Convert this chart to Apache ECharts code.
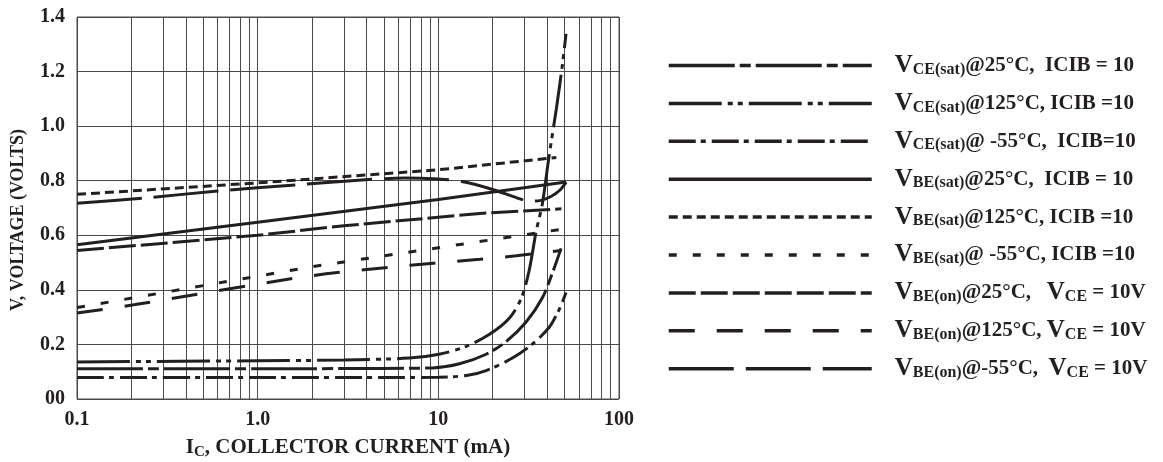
<!DOCTYPE html>
<html>
<head>
<meta charset="utf-8">
<script src="https://cdn.jsdelivr.net/npm/echarts@6/dist/echarts.min.js"></script>
<style>
html,body{margin:0;padding:0;background:#fff;}
#chart{width:1163px;height:462px;}
</style>
</head>
<body>
<div id="chart"></div>
<script>
// ---- data ----
const xTickLabels = {'-1': '0.1', '0': '1.0', '1': '10', '2': '100'};
const yTickLabels = {'0': '00', '0.2': '0.2', '0.4': '0.4', '0.6': '0.6', '0.8': '0.8', '1': '1.0', '1.2': '1.2', '1.4': '1.4'};
const minorGridValues = [0.2,0.3,0.4,0.5,0.6,0.7,0.8,0.9,2,3,4,5,6,7,8,9,20,30,40,50,60,70,80,90];

const seriesNames = [
  'VCE(sat)@25C', 'VCE(sat)@125C', 'VCE(sat)@-55C',
  'VBE(sat)@25C', 'VBE(sat)@125C', 'VBE(sat)@-55C',
  'VBE(on)@25C', 'VBE(on)@125C', 'VBE(on)@-55C'
];
const legendTexts = [
  '{v|V}{s|CE(sat)}{t|@25°C,  ICIB = 10}',
  '{v|V}{s|CE(sat)}{t|@125°C, ICIB =10}',
  '{v|V}{s|CE(sat)}{t|@ -55°C,  ICIB=10}',
  '{v|V}{s|BE(sat)}{t|@25°C,  ICIB = 10}',
  '{v|V}{s|BE(sat)}{t|@125°C, ICIB =10}',
  '{v|V}{s|BE(sat)}{t|@ -55°C, ICIB =10}',
  '{v|V}{s|BE(on)}{t|@25°C,   }{v|V}{s|CE}{t| = 10V}',
  '{v|V}{s|BE(on)}{t|@125°C, }{v|V}{s|CE}{t| = 10V}',
  '{v|V}{s|BE(on)}{t|@-55°C,  }{v|V}{s|CE}{t| = 10V}'
];
const dashPatterns = [
  [66,5,11,5],
  [53,6,5,5,5,6],
  [27,5,5,6],
  'solid',
  [9,5],
  [8,16],
  [27,5],
  [26,22],
  [65,12]
];
const curvedSeries = [true, true, true, false, false, false, false, true, true];

// [Ic (mA), V (volts)]
const vceSat25 = [[0.1,0.111],[1,0.111],[5,0.112],[9.3,0.114],[13.1,0.129],[18.4,0.164],[23.8,0.211],[30.6,0.282],[37.6,0.37],[42.7,0.46],[47.8,0.552]];
const vceSat125 = [[0.1,0.136],[1,0.14],[3,0.143],[6.9,0.15],[10.1,0.164],[14.3,0.193],[19.1,0.236],[24.7,0.296],[28.8,0.37],[31.8,0.47],[34.8,0.615],[37.6,0.713],[41,0.89],[44.9,1.059],[48.4,1.215],[50.9,1.338]];
const vceSatM55 = [[0.1,0.079],[1,0.079],[6,0.079],[10,0.08],[14.3,0.086],[18.4,0.104],[25.7,0.15],[33,0.2],[41,0.262],[46,0.32],[48.4,0.352],[50.9,0.39]];
const vbeSat25 = [[0.1,0.565],[1,0.648],[10,0.731],[51,0.795]];
const vbeSat125 = [[0.1,0.75],[1,0.792],[10,0.84],[45,0.885]];
const vbeSatM55 = [[0.1,0.335],[2,0.485],[48,0.622]];
const vbeOn25 = [[0.1,0.544],[1,0.6],[3,0.635],[17,0.68],[48,0.697]];
const vbeOn125 = [[0.1,0.315],[0.21,0.346],[2,0.452],[7,0.49],[12.6,0.505],[17,0.512],[27,0.525],[48,0.544]];
const vbeOnM55 = [[0.1,0.717],[0.23,0.736],[0.6,0.762],[1.64,0.785],[4.3,0.805],[6.5,0.81],[10,0.806],[13.5,0.797],[20,0.768],[27,0.738],[32,0.725],[37,0.728],[42,0.742],[47,0.765],[51,0.795]];

const seriesData = [vceSat25, vceSat125, vceSatM55, vbeSat25, vbeSat125, vbeSatM55, vbeOn25, vbeOn125, vbeOnM55];

// ---- chart ----
const FONT = "'Liberation Serif', 'DejaVu Serif', serif";
const INK = '#231f20';
const GRID = '#4a4a4a';

const chart = echarts.init(document.getElementById('chart'), null, {renderer: 'canvas'});

const series = seriesData.map((d, i) => ({
  name: seriesNames[i],
  type: 'line',
  data: d,
  showSymbol: false,
  symbol: 'none',
  smooth: curvedSeries[i] ? 0.3 : false,
  z: 3,
  lineStyle: {color: INK, width: 3, type: dashPatterns[i]},
  itemStyle: {color: INK}
}));

series.unshift({
  name: 'minorGrid',
  type: 'line',
  data: [],
  z: 1,
  silent: true,
  markLine: {
    silent: true,
    z: 1,
    symbol: ['none', 'none'],
    label: {show: false},
    animation: false,
    lineStyle: {color: GRID, width: 1, type: 'solid'},
    data: minorGridValues.map(v => ({xAxis: v}))
  }
});

const option = {
  animation: false,
  backgroundColor: '#fff',
  grid: {
    left: 77, right: 544, top: 17, bottom: 63,
    containLabel: false, outerBoundsMode: 'none',
    show: true, borderColor: GRID, borderWidth: 1
  },
  xAxis: {
    type: 'log', logBase: 10, min: 0.1, max: 100,
    axisLine: {show: false}, axisTick: {show: false},
    splitLine: {show: true, lineStyle: {color: GRID, width: 1}},
    axisLabel: {
      fontFamily: FONT, fontWeight: 'bold', fontSize: 20, color: INK, margin: 11,
      formatter: v => xTickLabels[String(Math.round(Math.log10(v)))] || ''
    },
    name: '{a|I}{b|C}{a|, COLLECTOR CURRENT (mA)}',
    nameLocation: 'middle', nameGap: 37,
    nameTextStyle: {
      rich: {
        a: {fontFamily: FONT, fontWeight: 'bold', fontSize: 21, color: INK, lineHeight: 24},
        b: {fontFamily: FONT, fontWeight: 'bold', fontSize: 15, color: INK, lineHeight: 16, padding: [8, 0, 0, 0]}
      }
    }
  },
  yAxis: {
    type: 'value', min: 0, max: 1.4, interval: 0.2,
    axisLine: {show: false}, axisTick: {show: false},
    splitLine: {show: true, lineStyle: {color: GRID, width: 1}},
    axisLabel: {
      fontFamily: FONT, fontWeight: 'bold', fontSize: 20, color: INK, margin: 12,
      formatter: v => yTickLabels[String(Math.round(v * 10) / 10)] || ''
    },
    name: 'V, VOLTAGE (VOLTS)',
    nameLocation: 'middle', nameGap: 50, nameRotate: 90,
    nameTextStyle: {fontFamily: FONT, fontWeight: 'bold', fontSize: 18, color: INK, padding: [0, 24, 0, 0]}
  },
  legend: {
    orient: 'vertical', left: 662, top: 48,
    itemWidth: 203, itemHeight: 24, itemGap: 12.9,
    data: seriesNames,
    selectedMode: false,
    itemStyle: {color: 'rgba(0,0,0,0)', borderWidth: 0, opacity: 0},
    lineStyle: {width: 3.5, type: 'inherit', color: INK, opacity: 1},
    formatter: name => legendTexts[seriesNames.indexOf(name)],
    textStyle: {
      padding: [0, 0, 0, 18],
      rich: {
        v: {fontFamily: FONT, fontWeight: 'bold', fontSize: 25, color: INK, lineHeight: 24},
        s: {fontFamily: FONT, fontWeight: 'bold', fontSize: 16, color: INK, lineHeight: 16, padding: [8, 0, 0, 0]},
        t: {fontFamily: FONT, fontWeight: 'bold', fontSize: 21, color: INK, lineHeight: 24}
      }
    }
  },
  series: series
};
chart.setOption(option);
</script>
</body>
</html>
